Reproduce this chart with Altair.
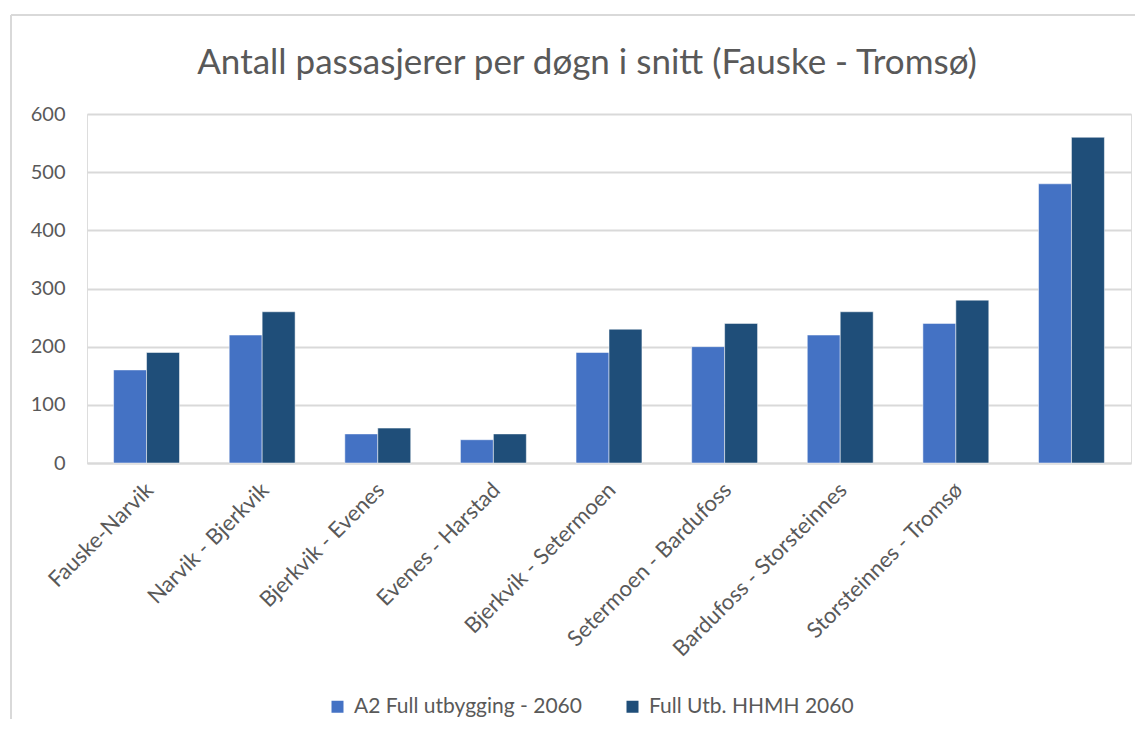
import altair as alt
import pandas as pd

categories = [
    "Fauske-Narvik",
    "Narvik - Bjerkvik",
    "Bjerkvik - Evenes",
    "Evenes - Harstad",
    "Bjerkvik - Setermoen",
    "Setermoen - Bardufoss",
    "Bardufoss - Storsteinnes",
    "Storsteinnes - Tromsø",
    " ",
]
series_names = ["A2 Full utbygging - 2060", "Full Utb. HHMH 2060"]
a2_values = [160, 220, 50, 40, 190, 200, 220, 240, 480]
hhmh_values = [190, 260, 60, 50, 230, 240, 260, 280, 560]
colors = ["#4472C4", "#1F4E79"]

rows = []
for c, a, h in zip(categories, a2_values, hhmh_values):
    rows.append({"strekning": c, "serie": series_names[0], "verdi": a})
    rows.append({"strekning": c, "serie": series_names[1], "verdi": h})
df = pd.DataFrame(rows)

FONT = "Lato"
GRAY = "#595959"
FRAME = "#d9d9d9"

bars = (
    alt.Chart(df)
    .mark_bar(stroke="white", strokeWidth=0.5)
    .encode(
        x=alt.X(
            "strekning:N",
            sort=categories,
            scale=alt.Scale(paddingInner=0.43, paddingOuter=0.23),
            axis=alt.Axis(
                title=None,
                labelAngle=-45,
                labelFontSize=22,
                labelColor=GRAY,
                labelFont=FONT,
                ticks=False,
                domainColor=FRAME,
                domainWidth=2,
                labelPadding=16,
                labelOffset=-4,
                labelLimit=400,
            ),
        ),
        xOffset=alt.XOffset("serie:N", sort=series_names),
        y=alt.Y(
            "verdi:Q",
            scale=alt.Scale(domain=[0, 600]),
            axis=alt.Axis(
                title=None,
                values=[0, 100, 200, 300, 400, 500, 600],
                labelFontSize=20,
                labelColor=GRAY,
                labelFont=FONT,
                ticks=False,
                domain=False,
                gridColor=FRAME,
                gridWidth=2,
                labelPadding=22,
            ),
        ),
        color=alt.Color(
            "serie:N",
            sort=series_names,
            scale=alt.Scale(domain=series_names, range=colors),
            legend=alt.Legend(
                title=None,
                orient="none",
                direction="horizontal",
                legendX=240,
                legendY=582,
                symbolType="square",
                symbolSize=144,
                symbolStrokeWidth=0,
                labelFontSize=21,
                labelColor=GRAY,
                labelFont=FONT,
                labelLimit=400,
                columnPadding=40,
                labelOffset=6,
            ),
        ),
    )
)

frame_df = pd.DataFrame({"k": [0]})
left_border = (
    alt.Chart(frame_df)
    .mark_rule(color=FRAME, strokeWidth=2)
    .encode(x=alt.value(-76), y=alt.value(-99), y2=alt.value(605))
)
top_border = (
    alt.Chart(frame_df)
    .mark_rule(color=FRAME, strokeWidth=2)
    .encode(x=alt.value(-76), x2=alt.value(1048), y=alt.value(-99))
)

chart = (
    alt.layer(bars, left_border, top_border)
    .properties(
        width=1044,
        height=349,
        title=alt.TitleParams(
            "Antall passasjerer per døgn i snitt (Fauske - Tromsø)",
            fontSize=35,
            font=FONT,
            color=GRAY,
            fontWeight="normal",
            anchor="middle",
            offset=-67,
            dx=-22,
        ),
        padding={"left": 2, "top": 6, "right": 2, "bottom": 0},
    )
    .configure_view(stroke=None)
    .configure(background="white")
)

chart.save("out.html", embed_options={"renderer": "svg", "actions": False})
